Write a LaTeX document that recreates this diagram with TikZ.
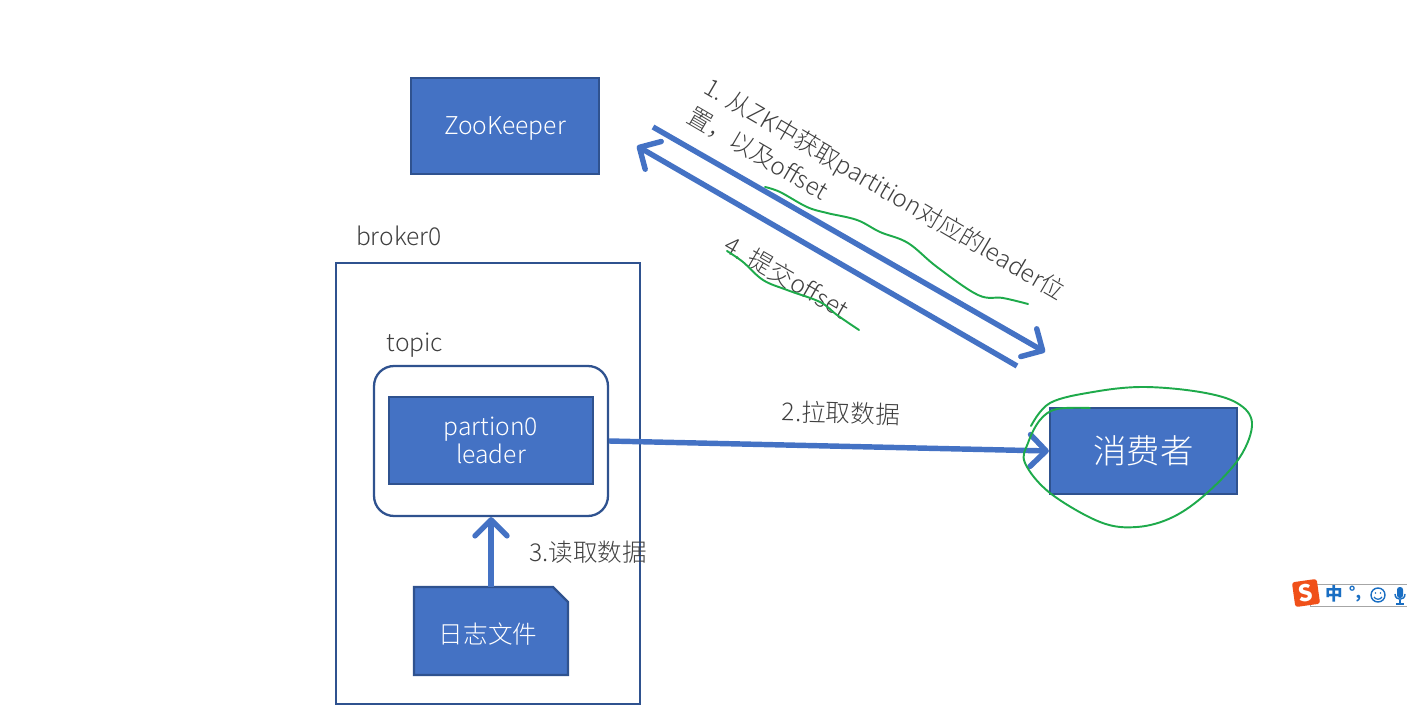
\documentclass[tikz,border=0pt]{standalone}
\usepackage{fontspec}
\usepackage{xcolor}
\setmainfont{Noto Sans CJK SC Light}
\newfontfamily\imefont{Noto Sans CJK SC}
\usetikzlibrary{arrows.meta, positioning}
\definecolor{boxblue}{RGB}{68,114,196}
\definecolor{edgeblue}{RGB}{47,82,143}
\definecolor{inkgray}{RGB}{64,64,64}
\definecolor{markgreen}{RGB}{30,170,75}
\definecolor{imeorange}{RGB}{240,80,25}
\definecolor{imeblue}{RGB}{25,110,195}

\begin{document}
\begin{tikzpicture}[
        x=0.02cm, y=-0.02cm,
        solidbox/.style={rectangle, draw=edgeblue, line width=1.3pt, fill=boxblue, text=white, inner sep=0pt},
        framebox/.style={rectangle, draw=edgeblue, line width=1.3pt, inner sep=0pt},
        label/.style={text=inkgray, inner sep=0pt, font=\fontsize{14}{17}\selectfont},
        arrow/.style={-{Straight Barb[length=3.2mm, width=6.4mm, round]}, line width=3.1pt, boxblue},
        pen/.style={markgreen, line width=1.1pt, line cap=round},
        ime/.style={text=imeblue, inner sep=0pt}
    ]
        \useasboundingbox (0,0) rectangle (1407,719);

        % ZooKeeper
        \node[solidbox, minimum width=3.76cm, minimum height=1.92cm, text height=10pt, text depth=0.4pt, font=\fontsize{14}{17}\selectfont] (zookeeper) at (505,126) {ZooKeeper};

        % broker0
        \node[framebox, minimum width=6.08cm, minimum height=8.82cm] (broker) at (488,483.5) {};
        \node[label] (brokerlabel) at (399,236) {broker0};
        \node[framebox, rounded corners=0.4cm, minimum width=4.68cm, minimum height=3cm] (topic) at (491,441) {};
        \node[label] (topiclabel) at (415,345) {topic};
        \node[solidbox, minimum width=4.08cm, minimum height=1.74cm, align=center, font=\fontsize{14}{16}\selectfont] (partion) at (491,440.5) {partion0\\leader};

        % log file
        \filldraw[draw=edgeblue, line width=1.3pt, fill=boxblue] (414,587) -- (553,587) -- (568,602) -- (568,675) -- (414,675) -- cycle;
        \node[text=white, inner sep=0pt, minimum width=3.08cm, minimum height=1.76cm, text height=14pt, text depth=0pt, font=\fontsize{14}{17}\selectfont] (logfile) at (491,631) {\hspace*{-3.4pt}日志文件};

        % consumer
        \node[solidbox, minimum width=3.74cm, minimum height=1.72cm, font=\fontsize{19}{22}\selectfont] (consumer) at (1143.5,451) {消费者};

        % Arrows
        \coordinate (fetchstart) at (653,127);
        \coordinate (fetchend) at (1045,352);
        \coordinate (commitstart) at (1017,366);
        \coordinate (commitend) at (637,146);
        \draw[arrow] (fetchstart) -- (fetchend);
        \draw[arrow] (commitstart) -- (commitend);
        \draw[arrow] (topic.east) -- (consumer.west);
        \draw[arrow] (logfile.north) -- (topic.south);

        % Labels
        \node[label, rotate=-30.3, align=left, font=\fontsize{13.8}{19}\selectfont] (fetchlabel) at (876.5,203) {1. 从ZK中获取partition对应的leader位\\置，以及offset};
        \node[label, rotate=-30] (commitlabel) at (787,277) {4. 提交offset};
        \node[label, rotate=-1.5] (pulllabel) at (841,413) {2.拉取数据};
        \node[label] (readlabel) at (588,552) {3.读取数据};

        % Pen marks
        \draw[pen] plot[smooth, tension=0.6] coordinates {(765,187) (780,192) (807,207) (827,213) (857,220) (880,232) (908,243) (937,267) (978,295) (1003,298) (1028,304)};
        \draw[pen] plot[smooth, tension=0.6] coordinates {(727,251) (743,262) (763,280) (787,290) (820,302) (837,315) (859,330)};
        \draw[pen] plot[smooth, tension=0.6] coordinates {(1031,426) (1050,403) (1093,392) (1143,387) (1200,392) (1237,403) (1252,423) (1240,457) (1207,493) (1173,517) (1137,527) (1100,522) (1050,493) (1025,463) (1028,443) (1040,420) (1057,409) (1090,408)};

        % Input method bar
        \draw[gray!70, line width=0.5pt, fill=white] (1310,584) rectangle (1420,606);
        \node[rectangle, rounded corners=1.5pt, fill=imeorange, rotate=8, minimum size=0.5cm, inner sep=0pt, text=white, font=\imefont\bfseries\fontsize{13}{13}\selectfont] (imelogo) at (1306,593) {S};
        \node[ime, font=\imefont\bfseries\fontsize{10}{10}\selectfont] (imelang) at (1334,594) {中};
        \node[ime, font=\imefont\bfseries\fontsize{9}{10}\selectfont] (imepunct) at (1355,594) {°,};
        \node[ime, circle, draw=imeblue, line width=0.8pt, minimum size=0.28cm] (imeface) at (1378,595) {};
        \fill[imeblue] (1375.5,593) circle (0.8) (1380.5,593) circle (0.8);
        \draw[imeblue, line width=0.7pt] (1374,597) .. controls (1376,600) and (1380,600) .. (1382,597);
        \fill[imeblue, rounded corners=1.5pt] (1397,587) rectangle (1403,598);
        \draw[imeblue, line width=0.8pt] (1395,594) .. controls (1395,601) and (1405,601) .. (1405,594);
        \draw[imeblue, line width=1pt] (1400,600) -- (1400,604) (1396,604) -- (1404,604);
    \end{tikzpicture}
\end{document}
